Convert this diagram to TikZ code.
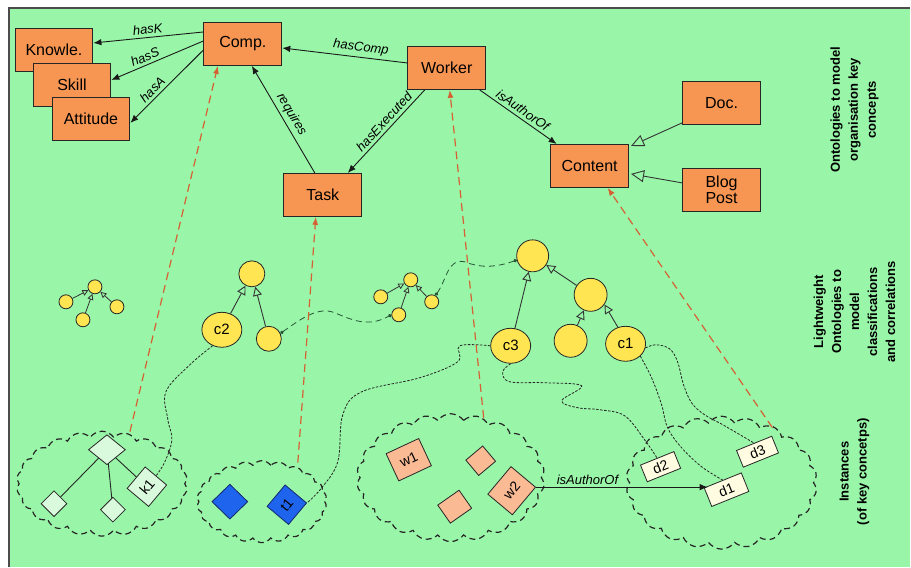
\documentclass[tikz,border=0pt]{standalone}
\usepackage{fontspec}
\setmainfont{Liberation Sans}
\usetikzlibrary{arrows.meta, shapes.geometric, shapes.symbols}

\definecolor{bggreen}{RGB}{153,246,168}
\definecolor{boxorange}{RGB}{247,150,82}
\definecolor{clsyellow}{RGB}{255,229,82}
\definecolor{tracered}{RGB}{214,96,52}
\definecolor{linkgreen}{RGB}{40,85,55}
\definecolor{kfill}{RGB}{218,250,222}
\definecolor{tfill}{RGB}{30,100,236}
\definecolor{tborder}{RGB}{20,40,110}
\definecolor{wfill}{RGB}{250,186,148}
\definecolor{dfill}{RGB}{255,252,226}

\begin{document}
\begin{tikzpicture}[x=1pt,y=-1pt,
  concept/.style={draw=black!85, fill=boxorange, line width=0.9pt, minimum width=78pt,
    minimum height=43pt, inner sep=1pt, font=\fontsize{16}{18}\selectfont, align=center},
  rel/.style={draw=black!90, line width=0.9pt, -{Latex[length=8pt,width=6.5pt]}},
  isa/.style={draw=black!80, line width=0.9pt, -{Triangle[open,length=9pt,width=9pt]}},
  isabig/.style={draw=black!80, line width=0.9pt, -{Triangle[open,length=13pt,width=12pt]}},
  isasmall/.style={draw=black!80, line width=0.8pt, -{Triangle[open,length=6pt,width=6pt]}},
  rlabel/.style={font=\itshape\fontsize{13}{14}\selectfont, inner sep=2pt},
  trace/.style={draw=tracered, line width=1.2pt, dash pattern=on 8pt off 5pt,
    -{Latex[length=8pt,width=6pt]}},
  cls/.style={circle, draw=black!85, fill=clsyellow, line width=0.8pt, inner sep=0pt},
  clsbig/.style={ellipse, draw=black!85, fill=clsyellow, line width=0.8pt, inner sep=0pt,
    minimum width=40pt, minimum height=35pt, font=\fontsize{15}{16}\selectfont},
  simlink/.style={draw=linkgreen, line width=0.8pt, dash pattern=on 6pt off 4pt,
    {Circle[length=3.5pt]}-{Circle[length=3.5pt]}},
  instlink/.style={draw=black!85, line width=0.8pt, dash pattern=on 2.5pt off 1.5pt},
  pool/.style={cloud, cloud puffs=22, cloud puff arc=110, cloud ignores aspect,
    draw=black!85, line width=1.2pt, dash pattern=on 6pt off 4pt},
  inst/.style={draw=black!85, line width=0.8pt, inner sep=0pt, font=\fontsize{14}{15}\selectfont},
  side/.style={rotate=90, align=center, font=\bfseries\fontsize{13}{18}\selectfont}
]
% canvas and frame
\fill[white] (0,0) rectangle (911,567);
\fill[bggreen] (9,8) rectangle (911,567);
\draw[black!70, line width=1.2pt] (9,567) -- (9,8) -- (911,8);
\useasboundingbox (0,0) rectangle (911,567);

% instance pools
\node[pool, minimum width=171pt, minimum height=105pt] (kpool) at (102,484) {};
\node[pool, minimum width=130pt, minimum height=82pt] (tpool) at (262,502) {};
\node[pool, minimum width=188pt, minimum height=128pt] (wpool) at (451,478) {};
\node[pool, minimum width=191pt, minimum height=133pt] (dpool) at (722,483) {};

% key concepts
\node[concept] (know) at (54,50) {Knowle.};
\node[concept] (skill) at (72,85) {Skill};
\node[concept] (att) at (91,119) {Attitude};
\node[concept] (comp) at (243,44) {Comp.};
\node[concept] (worker) at (447,68) {Worker};
\node[concept] (task) at (323,195) {Task};
\node[concept] (content) at (590,166) {Content};
\node[concept] (doc) at (722,103) {Doc.};
\node[concept] (blog) at (722,190) {Blog\\[-2pt]Post};

\draw[rel] ([yshift=12pt]comp.west) -- node[rlabel, above=1pt, sloped, pos=0.5] (lk) {hasK} ([yshift=7pt]know.east);
\draw[rel] ([yshift=3pt]comp.west) -- node[rlabel, above=1pt, sloped, pos=0.6] (ls) {hasS} ([yshift=5pt]skill.east);
\draw[rel] ([yshift=-6pt]comp.west) -- node[rlabel, above=1pt, sloped, pos=0.62] (la) {hasA} ([yshift=-4pt]att.east);
\draw[rel] ([yshift=5pt]worker.west) -- node[rlabel, above=1pt, sloped, pos=0.38] (lc) {hasComp} ([yshift=-4pt]comp.east);
\draw[rel] ([xshift=-22pt]worker.south) -- node[rlabel, above=1pt, sloped, pos=0.45] (le) {hasExecuted} ([xshift=25pt]task.north);
\draw[rel] ([xshift=-8pt]task.north) -- node[rlabel, above=1pt, sloped, pos=0.5] (lr) {requires} ([xshift=9pt]comp.south);
\draw[rel] ([xshift=33pt]worker.south) -- node[rlabel, above=1pt, sloped, pos=0.5] (lw) {isAuthorOf} ([xshift=-33pt]content.north);
\draw[isabig] ([yshift=2pt]doc.south west) -- ([xshift=2pt,yshift=-2pt]content.north east);
\draw[isabig] ([yshift=7pt]blog.west) -- ([xshift=2pt,yshift=-8pt]content.east);

% lightweight classifications
\node[cls, minimum size=14pt] (a0) at (95,287) {};
\node[cls, minimum size=14pt] (a1) at (66,302) {};
\node[cls, minimum size=14pt] (a2) at (83,320) {};
\node[cls, minimum size=14pt] (a3) at (117,307) {};
\draw[isasmall] (a1) -- (a0);
\draw[isasmall] (a2) -- (a0);
\draw[isasmall] (a3) -- (a0);

\node[cls, minimum size=26pt] (b0) at (252,274) {};
\node[clsbig] (c2) at (222,330) {c2};
\node[cls, minimum size=25pt] (b2) at (269,339) {};
\draw[isa] (c2) -- (b0);
\draw[isa] (b2) -- (b0);

\node[cls, minimum size=14pt] (e0) at (411,280) {};
\node[cls, minimum size=14pt] (e1) at (381,297) {};
\node[cls, minimum size=14pt] (e2) at (399,315) {};
\node[cls, minimum size=14pt] (e3) at (432,302) {};
\draw[isasmall] (e1) -- (e0);
\draw[isasmall] (e2) -- (e0);
\draw[isasmall] (e3) -- (e0);

\node[cls, minimum size=32pt] (f0) at (533,256) {};
\node[cls, minimum size=33pt] (f1) at (591,295) {};
\node[clsbig] (c3) at (511,346) {c3};
\node[cls, minimum size=33pt] (f2) at (571,341) {};
\node[clsbig] (c1) at (626,344) {c1};
\draw[isa] (c3) -- (f0);
\draw[isa] (f1) -- (f0);
\draw[isa] (f2) -- (f1);
\draw[isa] (c1.115) -- (f1.-35);

% correlations between classifications
\draw[simlink] (b2.25) .. controls (300,320) and (318,306) .. (335,313)
  .. controls (352,320) and (368,328) .. (e2.west);
\draw[simlink] (e3.60) .. controls (447,280) and (448,258) .. (465,262)
  .. controls (480,268) and (495,268) .. (f0.195);

% instances
\node[inst, diamond, fill=kfill, minimum width=37pt, minimum height=30pt] (k0) at (107,450) {};
\node[inst, diamond, fill=kfill, minimum size=26pt] (kl) at (54,504) {};
\node[inst, diamond, fill=kfill, minimum size=25pt] (km) at (113,510) {};
\node[inst, rectangle, fill=kfill, minimum size=28pt, rotate=50] (k1) at (147,487) {k1};
\draw[black!85, line width=0.9pt] (k0) -- (kl);
\draw[black!85, line width=0.9pt] (k0) -- (km);
\draw[black!85, line width=0.9pt] (k0) -- (k1);

\node[inst, diamond, draw=tborder, fill=tfill, minimum width=36pt, minimum height=35pt] (t0) at (230,502) {};
\node[inst, rectangle, draw=tborder, fill=tfill, minimum size=28pt, rotate=50] (t1) at (287,505) {t1};

\node[inst, rectangle, fill=wfill, minimum width=36pt, minimum height=30pt, rotate=25] (w1) at (409,460) {w1};
\node[inst, rectangle, fill=wfill, minimum width=22pt, minimum height=20pt, rotate=40] (wa) at (481,461) {};
\node[inst, rectangle, fill=wfill, minimum width=26pt, minimum height=22pt, rotate=35] (wb) at (455,507) {};
\node[inst, rectangle, fill=wfill, minimum width=36pt, minimum height=32pt, rotate=50] (w2) at (512,491) {w2};

\node[inst, rectangle, fill=dfill, minimum width=36pt, minimum height=18pt, rotate=22] (d2) at (661,467) {d2};
\node[inst, rectangle, fill=dfill, minimum width=40pt, minimum height=20pt, rotate=22] (d1) at (727,490) {d1};
\node[inst, rectangle, fill=dfill, minimum width=38pt, minimum height=18pt, rotate=22] (d3) at (758,452) {d3};

\draw[rel, line width=0.8pt] (w2.south east) -- node[rlabel, above, pos=0.3] (lw2) {isAuthorOf} (w2.south east -| d1.west);

% links from classifications to instances
\draw[instlink] plot[smooth, tension=0.6] coordinates {(c2.240) (190,365) (166,392) (168,420) (172,440) (165,462) (k1.east)};
\draw[instlink] plot[smooth, tension=0.6] coordinates {(c3.west) (460,346) (458,362) (420,378) (362,392) (343,415) (338,462) (322,488) (t1.south east)};
\draw[instlink] plot[smooth, tension=0.6] coordinates {(c3.south) (503,372) (510,382) (545,383) (582,386) (562,401) (578,408) (600,410) (625,416) (645,440) (d2.north)};
\draw[instlink] plot[smooth, tension=0.6] coordinates {(c1.-40) (652,378) (662,405) (668,428) (682,448) (702,467) (d1.north)};
\draw[instlink] plot[smooth, tension=0.6] coordinates {(c1.-12) (656,345) (670,349) (678,362) (684,385) (692,403) (705,415) (725,426) (d3.north)};

% traces from instances up to the key concepts
\coordinate (kup) at (130,432);
\coordinate (tup) at (298,463);
\coordinate (wup) at (484,418);
\coordinate (dup) at (773,428);
\draw[trace] (kup) -- ([xshift=-25pt]comp.south);
\draw[trace] (tup) -- ([xshift=-7pt]task.south);
\draw[trace] (wup) -- ([xshift=3pt]worker.south);
\draw[trace] (dup) -- ([xshift=18pt]content.south);

% layer captions
\node[side] (cap1) at (855,110) {Ontologies to model\\organisation key\\concepts};
\node[side] (cap2) at (855,312) {Lightweight\\Ontologies to\\model\\classifications\\and correlations};
\node[side] (cap3) at (855,472) {Instances\\(of key concetps)};
\end{tikzpicture}
\end{document}
